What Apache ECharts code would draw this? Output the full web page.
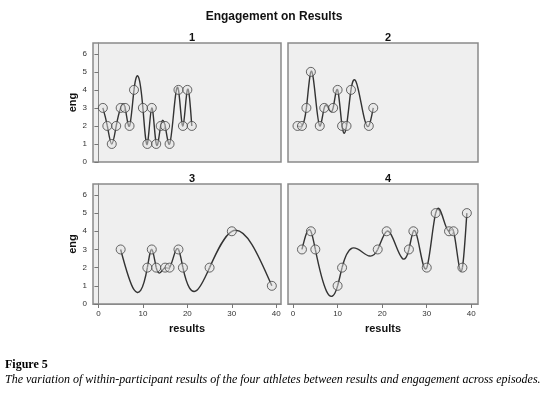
<!DOCTYPE html>
<html><head><meta charset="utf-8">
<script src="https://cdn.jsdelivr.net/npm/echarts@6/dist/echarts.min.js"></script>
<style>html,body{margin:0;padding:0;background:#fff}#c{width:548px;height:394px}</style>
</head><body><div id="c"></div>
<script>
// Data (results -> engagement), per athlete
const panelTitles = ['1', '2', '3', '4'];
const p1x = [1,2,3,4,5,6,7,8,10,11,12,13,14,15,16,18,19,20,21];
const p1y = [3,2,1,2,3,3,2,4,3,1,3,1,2,2,1,4,2,4,2];
const p2x = [1,2,3,4,6,7,9,10,11,12,13,17,18];
const p2y = [2,2,3,5,2,3,3,4,2,2,4,2,3];
const p3x = [5,11,12,13,15,16,18,19,25,30,39];
const p3y = [3,2,3,2,2,2,3,2,2,4,1];
const p4x = [2,4,5,10,11,19,21,26,27,30,32,35,36,38,39];
const p4y = [3,4,3,1,2,3,4,3,4,2,5,4,4,2,5];
const xTicks = [0,10,20,30,40];
const yTicks = [0,1,2,3,4,5,6];

const panelsX = [p1x,p2x,p3x,p4x];
const panelsY = [p1y,p2y,p3y,p4y];

// natural cubic spline slopes at each knot (for rendering the fit curve)
function splineSlopes(x, y) {
  const n = x.length, h = [], M = new Array(n).fill(0);
  for (let i = 0; i < n - 1; i++) h.push(x[i+1] - x[i]);
  if (n > 2) {
    const a = [], b = [], c = [], d = [];
    for (let i = 1; i < n - 1; i++) {
      a.push(h[i-1]); b.push(2*(h[i-1]+h[i])); c.push(h[i]);
      d.push(6*((y[i+1]-y[i])/h[i] - (y[i]-y[i-1])/h[i-1]));
    }
    const m = b.length;
    for (let i = 1; i < m; i++) {
      const w = a[i]/b[i-1];
      b[i] -= w*c[i-1]; d[i] -= w*d[i-1];
    }
    const sol = new Array(m);
    sol[m-1] = d[m-1]/b[m-1];
    for (let i = m-2; i >= 0; i--) sol[i] = (d[i]-c[i]*sol[i+1])/b[i];
    for (let i = 0; i < m; i++) M[i+1] = sol[i];
  }
  const segs = [];
  for (let i = 0; i < n - 1; i++) {
    const s = (y[i+1]-y[i])/h[i];
    segs.push({
      m0: s - h[i]*(2*M[i]+M[i+1])/6,
      m1: s + h[i]*(M[i]+2*M[i+1])/6
    });
  }
  return segs;
}

const grids = [
  {left: 93, top: 43, width: 188, height: 119},
  {left: 288, top: 43, width: 190, height: 119},
  {left: 93, top: 184, width: 188, height: 120},
  {left: 288, top: 184, width: 190, height: 120}
];
const xRanges = [[-1.22, 41.06], [-1.13, 41.5], [-1.22, 41.06], [-1.13, 41.5]];

const font = 'Liberation Sans, Arial, sans-serif';
const option = {
  animation: false,
  backgroundColor: '#ffffff',
  title: [
    {text: 'Engagement on Results', left: 'center', top: 6,
     textStyle: {fontFamily: font, fontSize: 12, fontWeight: 'bold', color: '#111'}}
  ].concat(panelTitles.map((t, i) => ({
    text: t, left: grids[i].left + grids[i].width/2, top: grids[i].top - 16, textAlign: 'center',
    textStyle: {fontFamily: font, fontSize: 11, fontWeight: 'bold', color: '#111'}
  }))),
  grid: grids.map(g => Object.assign({show: true, backgroundColor: '#efefef', borderColor: '#8a8a8a', borderWidth: 1.5}, g)),
  xAxis: grids.map((g, i) => ({
    gridIndex: i, type: 'value', min: xRanges[i][0], max: xRanges[i][1],
    name: i >= 2 ? 'results' : '', nameLocation: 'middle', nameGap: 19,
    nameTextStyle: {fontFamily: font, fontSize: 11, fontWeight: 'bold', color: '#111'},
    axisLine: {show: i >= 2, lineStyle: {color: '#8a8a8a'}},
    axisTick: {show: i >= 2, length: 4, customValues: xTicks, lineStyle: {color: '#777'}},
    axisLabel: {show: i >= 2, customValues: xTicks, margin: 6, fontFamily: font, fontSize: 8, color: '#333'},
    splitLine: {show: false}
  })),
  yAxis: grids.map((g, i) => ({
    gridIndex: i, type: 'value', min: 0, max: 6.6,
    name: i % 2 === 0 ? 'eng' : '', nameLocation: 'middle', nameGap: 14,
    nameTextStyle: {fontFamily: font, fontSize: 11, fontWeight: 'bold', color: '#111'},
    axisLine: {show: i % 2 === 0, lineStyle: {color: '#8a8a8a'}},
    axisTick: {show: i % 2 === 0, length: 4, customValues: yTicks, lineStyle: {color: '#777'}},
    axisLabel: {show: i % 2 === 0, customValues: yTicks, margin: 6, fontFamily: font, fontSize: 8, color: '#333'},
    splitLine: {show: false}
  })),
  graphic: [
    {type: 'text', left: 5, top: 359, style: {text: 'Figure 5', font: 'bold 12px "Liberation Serif", "Times New Roman", serif', fill: '#000'}},
    {type: 'text', left: 5, top: 374, style: {text: 'The variation of within-participant results of the four athletes between results and engagement across episodes.', font: 'italic 12px "Liberation Serif", "Times New Roman", serif', fill: '#000'}}
  ],
  series: []
};

panelsX.forEach((xs, p) => {
  const ys = panelsY[p];
  const segs = splineSlopes(xs, ys);
  const pts = xs.map((x, i) => [x, ys[i]]);
  option.series.push({
    type: 'custom', xAxisIndex: p, yAxisIndex: p, data: pts, encode: {x: 0, y: 1},
    z: 2, silent: true,
    renderItem: function (params, api) {
      const i = params.dataIndex;
      if (i >= xs.length - 1) return null;
      const h = xs[i+1] - xs[i];
      const s = segs[i];
      const a = api.coord([xs[i], ys[i]]);
      const c1 = api.coord([xs[i] + h/3, ys[i] + s.m0*h/3]);
      const c2 = api.coord([xs[i+1] - h/3, ys[i+1] - s.m1*h/3]);
      const b = api.coord([xs[i+1], ys[i+1]]);
      return {
        type: 'bezierCurve',
        shape: {x1: a[0], y1: a[1], cpx1: c1[0], cpy1: c1[1], cpx2: c2[0], cpy2: c2[1], x2: b[0], y2: b[1]},
        style: {stroke: '#333', lineWidth: 1.4, fill: null}
      };
    }
  });
  option.series.push({
    type: 'scatter', xAxisIndex: p, yAxisIndex: p, data: pts, z: 3,
    symbol: 'circle', symbolSize: 9,
    itemStyle: {color: 'rgba(225,225,225,0.6)', borderColor: '#444', borderWidth: 1}
  });
});

const chart = echarts.init(document.getElementById('c'), null, {renderer: 'canvas'});
chart.setOption(option);
</script>
</body></html>
